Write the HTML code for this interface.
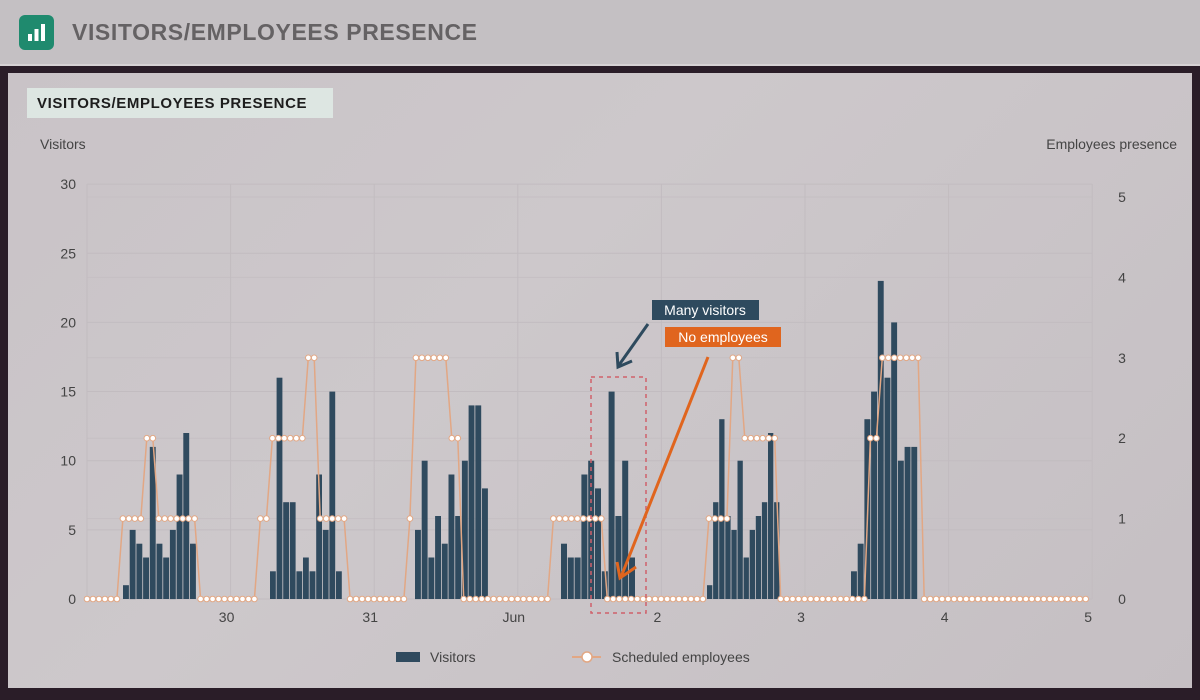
<!DOCTYPE html>
<html><head><meta charset="utf-8"><style>
html,body{margin:0;padding:0;width:1200px;height:700px;overflow:hidden;background:#2a1d28;font-family:"Liberation Sans",sans-serif;}
#hdr{position:absolute;left:0;top:0;width:1200px;height:64px;background:#c4c0c3;border-bottom:2px solid #d6d2d4;}
#icon{position:absolute;left:19px;top:15px;width:35px;height:35px;background:#1f8a6e;border-radius:6px;}
#htitle{position:absolute;left:72px;top:19px;font-size:23px;font-weight:bold;color:#656264;letter-spacing:0.6px;}
#panel{position:absolute;left:8px;top:73px;width:1184px;height:615px;background:linear-gradient(135deg,#c9c3c7 0%,#cdc8cb 40%,#c5bfc3 100%);}
svg{position:absolute;left:0;top:0;}
</style></head><body>
<div id="hdr"><div id="icon"><svg width="35" height="35"><rect x="9" y="19" width="4" height="7" fill="#fff"/><rect x="15.5" y="14" width="4" height="12" fill="#fff"/><rect x="22" y="9" width="4" height="17" fill="#fff"/></svg></div><div id="htitle">VISITORS/EMPLOYEES PRESENCE</div></div>
<div id="panel"></div>
<svg id="c" width="1200" height="700" xmlns="http://www.w3.org/2000/svg"></svg>
<script>
var s='';
function T(x,y,t,sz,col,anc,w,ls){s+='<text x="'+x+'" y="'+y+'" font-size="'+sz+'" fill="'+col+'" text-anchor="'+(anc||'start')+'"'+(w?' font-weight="bold"':'')+(ls?' letter-spacing="'+ls+'"':'')+' font-family="Liberation Sans, sans-serif">'+t+'</text>';}
s+='<rect x="27" y="88" width="306" height="30" fill="#dde6e2"/>';
T(37,108,'VISITORS/EMPLOYEES PRESENCE',15,'#1d1d1d','start',1,0.6);
T(40,149,'Visitors',14,'#444');
T(1177,149,'Employees presence',14,'#444','end');
var x0=87,x1=1092,yb=599;
function yl(v){return yb-v*13.83;}
function yr(v){return yb-v*80.4;}
for(var v=0;v<=30;v+=5){var y=yl(v);s+='<line x1="'+x0+'" x2="'+x1+'" y1="'+y+'" y2="'+y+'" stroke="#c2bcc0" stroke-width="1"/>';T(76,y+5,v,14,'#444','end');}
for(var v=1;v<=5;v++){var y=yr(v);s+='<line x1="'+x0+'" x2="'+x1+'" y1="'+y+'" y2="'+y+'" stroke="#c5bfc3" stroke-width="1"/>';}
for(var v=0;v<=5;v++){T(1122,yr(v)+5,v,14,'#444','middle');}
var days=['','30','31','Jun','2','3','4','5'];
for(var i=0;i<8;i++){var x=x0+i*143.6;s+='<line x1="'+x+'" x2="'+x+'" y1="184" y2="'+yb+'" stroke="#c2bcc0"/>';if(i>0)T(x-4,622,days[i],14,'#444','middle');}
var cl=[[123,6.7,[1,5,4,3,11,4,3,5,9,12,4]],[270,6.6,[2,16,7,7,2,3,2,9,5,15,2]],[415,6.7,[5,10,3,6,4,9,6,10,14,14,8]],[561,6.8,[4,3,3,9,10,8,2,15,6,10,3]],[707,6.1,[1,7,13,6,5,10,3,5,6,7,12,7]],[851,6.7,[2,4,13,15,23,16,20,10,11,11]]];
cl.forEach(function(c){c[2].forEach(function(v,i){var x=c[0]+i*c[1];s+='<rect x="'+x.toFixed(1)+'" y="'+yl(v).toFixed(1)+'" width="'+(c[1]-0.8).toFixed(1)+'" height="'+(v*13.83).toFixed(1)+'" fill="#2f4a5e"/>';});});
function rep(v,n){var a=[];for(var i=0;i<n;i++)a.push(v);return a;}
var e=[].concat(rep(0,6),rep(1,4),rep(2,2),rep(1,7),rep(0,5),
rep(0,5),rep(1,2),rep(2,6),rep(3,2),rep(1,5),rep(0,4),
rep(0,6),[1],rep(3,6),rep(2,2),rep(0,9),
rep(0,6),rep(1,9),rep(0,9),
rep(0,8),rep(1,4),rep(3,2),rep(2,6),rep(0,4),
rep(0,11),rep(2,2),rep(3,7),rep(0,4),
rep(0,24));
var pts=e.map(function(v,i){return [x0+i*5.98,yr(v)];});
s+='<polyline fill="none" stroke="#e2a784" stroke-width="1.5" points="'+pts.map(function(p){return p[0].toFixed(1)+','+p[1].toFixed(1);}).join(' ')+'"/>';
pts.forEach(function(p){s+='<circle cx="'+p[0].toFixed(1)+'" cy="'+p[1].toFixed(1)+'" r="2.8" fill="#fff" stroke="#e2a784" stroke-width="1"/>';});
s+='<rect x="591" y="377" width="55" height="236" fill="none" stroke="#d0606a" stroke-width="1.5" stroke-dasharray="4,4"/>';
s+='<rect x="652" y="300" width="107" height="20" fill="#2e4a5e"/>';T(705,315,'Many visitors',14,'#fff','middle');
s+='<rect x="665" y="327" width="116" height="20" fill="#e0651e"/>';T(723,342,'No employees',14,'#fff','middle');
s+='<line x1="648" y1="324" x2="619" y2="365" stroke="#2e4a5e" stroke-width="3"/><polyline points="617,352 618,367 632,361" fill="none" stroke="#2e4a5e" stroke-width="3"/>';
s+='<line x1="708" y1="357" x2="621" y2="577" stroke="#e0651e" stroke-width="3"/><polyline points="617,562 620,578 636,567" fill="none" stroke="#e0651e" stroke-width="3"/>';
s+='<rect x="396" y="652" width="24" height="10" fill="#2f4a5e"/>';T(430,662,'Visitors',14,'#444');
s+='<line x1="572" y1="657" x2="601" y2="657" stroke="#e2a784" stroke-width="2"/><circle cx="587" cy="657" r="5" fill="#fff" stroke="#e2a784" stroke-width="1.5"/>';T(612,662,'Scheduled employees',14,'#444');
document.getElementById('c').innerHTML=s;
</script>
</body></html>
